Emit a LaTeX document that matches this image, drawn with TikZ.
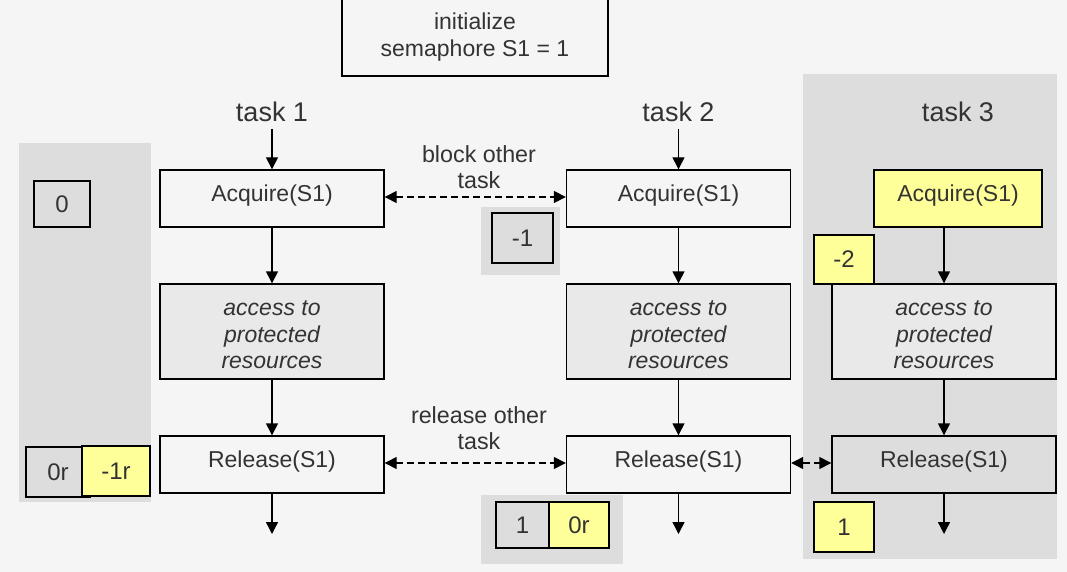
\documentclass[tikz,border=0pt]{standalone}
\usepackage{fontspec}
\setmainfont{Liberation Sans}
\usetikzlibrary{arrows.meta}
\definecolor{bg}{HTML}{F5F5F5}
\definecolor{panel}{HTML}{DDDDDD}
\definecolor{procfill}{HTML}{E9E9E9}
\definecolor{yel}{HTML}{FFFF99}
\definecolor{txt}{HTML}{333333}
\tikzset{
  box/.style={draw=black, line width=1.4pt, fill=bg, text=txt, align=center,
    inner sep=0pt, font=\fontsize{23}{26.5}\selectfont},
  opbox/.style={box, minimum width=224pt, minimum height=57pt, text height=17pt, text depth=12pt},
  procbox/.style={box, fill=procfill, minimum width=224pt, minimum height=95pt},
  proctext/.style={text=txt, align=center, inner sep=0pt,
    font=\fontsize{23}{26.5}\selectfont\itshape},
  valbox/.style={box, fill=panel, font=\fontsize{24}{26}\selectfont},
  yelbox/.style={box, fill=yel, font=\fontsize{24}{26}\selectfont},
  panelbg/.style={fill=panel, draw=none},
  tasklabel/.style={text=txt, font=\fontsize{27}{30}\selectfont, inner sep=0pt},
  note/.style={text=txt, align=center, font=\fontsize{23.3}{26.5}\selectfont, inner sep=0pt},
  flow/.style={line width=1.4pt, -{Triangle[length=12pt,width=12pt]}},
  link/.style={line width=1.4pt, dash pattern=on 7pt off 4pt,
    {Triangle[length=12pt,width=12pt]}-{Triangle[length=12pt,width=12pt]}}
}
\begin{document}
\begin{tikzpicture}[x=1pt,y=-1pt]
\useasboundingbox (0,0) rectangle (1067,572);
\fill[bg] (0,0) rectangle (1067,572);
% panels
\fill[panelbg] (19,143) rectangle (151,502);
\fill[panelbg] (481,207) rectangle (560,275);
\fill[panelbg] (481,495) rectangle (623,564);
\fill[panelbg] (803,74) rectangle (1057,559);
% init box
\node[box, minimum width=266pt, minimum height=78pt] (init) at (475,37) {initialize\\semaphore S1 = 1};
% task labels
\node[tasklabel] (t1) at (272,112) {task 1};
\node[tasklabel] (t2) at (678.5,112) {task 2};
\node[tasklabel] (t3) at (958,112) {task 3};
% task 1
\node[opbox] (a1) at (272,198.5) {Acquire(S1)};
\node[procbox] (p1) at (272,331.5) {};
\node[proctext] (p1t) at (272,335) {access to\\protected\\resources};
\node[opbox] (r1) at (272,464.5) {Release(S1)};
% task 2
\node[opbox] (a2) at (678.5,198.5) {Acquire(S1)};
\node[procbox] (p2) at (678.5,331.5) {};
\node[proctext] (p2t) at (678.5,335) {access to\\protected\\resources};
\node[opbox] (r2) at (678.5,464.5) {Release(S1)};
% task 3
\node[opbox, fill=yel, minimum width=168pt] (a3) at (958,198.5) {Acquire(S1)};
\node[procbox] (p3) at (944,331.5) {};
\node[proctext] (p3t) at (944,335) {access to\\protected\\resources};
\node[opbox, fill=panel] (r3) at (944,464.5) {Release(S1)};
% end coordinates
\coordinate (e1) at (272,534);
\coordinate (e2) at (678.5,534);
\coordinate (e3) at (944,534);
\coordinate (s1) at (272,129);
\coordinate (s2) at (678.5,129);
% flow arrows
\draw[flow] (s1) -- (a1);
\draw[flow] (a1) -- (p1);
\draw[flow] (p1) -- (r1);
\draw[flow] (r1) -- (e1);
\draw[flow] (s2) -- (a2);
\draw[flow] (a2) -- (p2);
\draw[flow] (p2) -- (r2);
\draw[flow] (r2) -- (e2);
\draw[flow] (p3.north |- a3.south) -- (p3.north);
\draw[flow] (p3) -- (r3);
\draw[flow] (r3) -- (e3);
% dashed links
\draw[link] ([yshift=1.5pt]a1.east) -- ([yshift=1.5pt]a2.west);
\draw[link] ([yshift=1.5pt]r1.east) -- ([yshift=1.5pt]r2.west);
\draw[link] ([yshift=1.5pt]r2.east) -- ([yshift=1.5pt]r3.west);
\node[note] (n1) at (479,167) {block other\\task};
\node[note] (n2) at (479,428) {release other\\task};
% value boxes
\node[valbox, minimum width=56pt, minimum height=46pt] (v0) at (62,204) {0};
\node[valbox, minimum width=64pt, minimum height=50pt] (v0r) at (58,472) {0r};
\node[yelbox, minimum width=68pt, minimum height=50pt] (v1r) at (116,471) {-1r};
\node[valbox, minimum width=61pt, minimum height=50pt] (vm1) at (522.5,238) {-1};
\node[valbox, minimum width=53pt, minimum height=46pt] (vb1) at (522.5,525) {1};
\node[yelbox, minimum width=60pt, minimum height=46pt] (vb0r) at (579,525) {0r};
\node[yelbox, minimum width=60pt, minimum height=49pt] (vm2) at (844,259.5) {-2};
\node[yelbox, minimum width=60pt, minimum height=50pt] (v3) at (844,527) {1};
\end{tikzpicture}
\end{document}
